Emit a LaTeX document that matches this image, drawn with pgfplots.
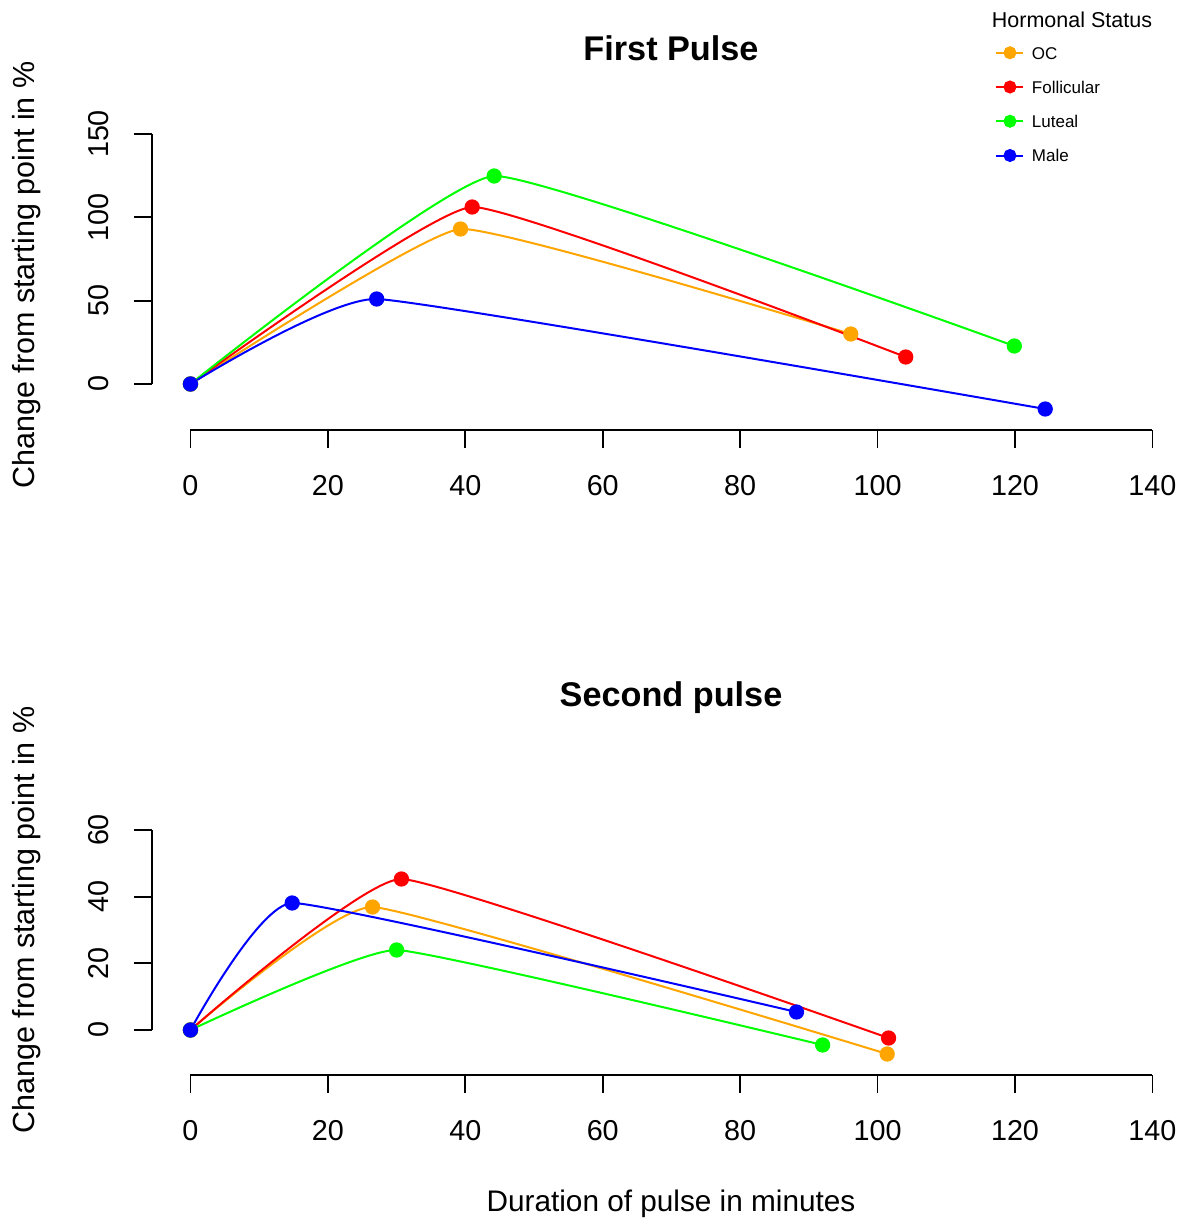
\documentclass[border=0pt]{standalone}
\usepackage{fontspec}
\setmainfont{Liberation Sans}
\usepackage{pgfplots}
\pgfplotsset{compat=1.18}
\definecolor{ocorange}{HTML}{FFA500}
\definecolor{folred}{HTML}{FF0000}
\definecolor{lutgreen}{HTML}{00FF00}
\definecolor{maleblue}{HTML}{0000FF}

% R base-graphics look: detached axes, outward ticks, rotated y labels
\pgfplotsset{
  rpanel/.style={
    anchor=south west,
    x=2.7484pt,
    xmin=-5.6, xmax=145.6,
    axis x line*=bottom, axis y line*=left,
    axis line style={draw=none},
    tick align=outside,
    major tick length=7.2pt,
    tick style={black, line width=0.7pt},
    xtick={0,20,...,140},
    clip=false,
    /pgf/number format/assume math mode=true,
    ticklabel style={font=\fontsize{11.5}{13}\selectfont},
    yticklabel style={rotate=90, anchor=south},
    xticklabel shift=7.6pt,
    yticklabel shift=6.4pt,
    every axis plot/.append style={line width=0.8pt, smooth, tension=0.2,
      mark=*, mark size=2.65pt, mark options={solid}},
  },
}

\begin{document}
\begin{tikzpicture}
\path[use as bounding box] (0,0) rectangle (473.6pt,488.4pt);

% first pulse
\begin{axis}[rpanel, at={(60.8pt,316.4pt)},
  y=0.66667pt, ymin=-27.6, ymax=158.4, ytick={0,50,100,150},
  legend style={draw=none, fill=none, inner sep=0pt,
    at={(0.8114,1.2387)}, anchor=north west,
    font=\fontsize{6.8}{8}\selectfont,
    row sep=8.7pt, column sep=3.0pt,
    nodes={inner sep=0pt, text height=5pt, text depth=0pt},
    cells={anchor=west}},
  legend image code/.code={
    \draw[#1, mark size=2.2pt, mark repeat=2, mark phase=2]
      plot coordinates {(0pt,0pt) (5.4pt,0pt) (10.8pt,0pt)};},
]
\addplot[ocorange] coordinates {(0,0) (39.3,93) (96.1,30)};
\addplot[folred] coordinates {(0,0) (41.0,106.2) (104.1,16.2)};
\addplot[lutgreen] coordinates {(0,0) (44.2,124.8) (119.9,22.8)};
\addplot[maleblue] coordinates {(0,0) (27.1,51) (124.4,-15)};
\legend{OC, Follicular, Luteal, Male}
\draw[line width=0.7pt] (axis cs:0,-27.6) -- (axis cs:140,-27.6);
\draw[line width=0.7pt] (axis cs:-5.6,0) -- (axis cs:-5.6,150);
\end{axis}

% second pulse
\begin{axis}[rpanel, at={(60.8pt,58.4pt)},
  y=1.33333pt, ymin=-13.5, ymax=79.5, ytick={0,20,40,60}]
\addplot[ocorange] coordinates {(0,0) (26.5,36.9) (101.4,-7.2)};
\addplot[folred] coordinates {(0,0) (30.7,45.3) (101.6,-2.4)};
\addplot[lutgreen] coordinates {(0,0) (30.0,24) (92.0,-4.5)};
\addplot[maleblue] coordinates {(0,0) (14.8,38.1) (88.2,5.4)};
\draw[line width=0.7pt] (axis cs:0,-13.5) -- (axis cs:140,-13.5);
\draw[line width=0.7pt] (axis cs:-5.6,0) -- (axis cs:-5.6,60);
\end{axis}

\node[font=\bfseries\fontsize{13.7}{16}\selectfont] at (268.4pt,469.2pt) {First Pulse};
\node[font=\bfseries\fontsize{13.7}{16}\selectfont] at (268.4pt,209.2pt) {Second pulse};
\node[font=\fontsize{12.2}{14}\selectfont, rotate=90] at (10.8pt,378.4pt) {Change from starting point in \%};
\node[font=\fontsize{12.2}{14}\selectfont, rotate=90] at (10.8pt,120.4pt) {Change from starting point in \%};
\node[font=\fontsize{11.9}{14}\selectfont] at (268.4pt,6.8pt) {Duration of pulse in minutes};
\node[font=\fontsize{8.6}{10}\selectfont] at (428.8pt,480.4pt) {Hormonal Status};
\end{tikzpicture}
\end{document}
